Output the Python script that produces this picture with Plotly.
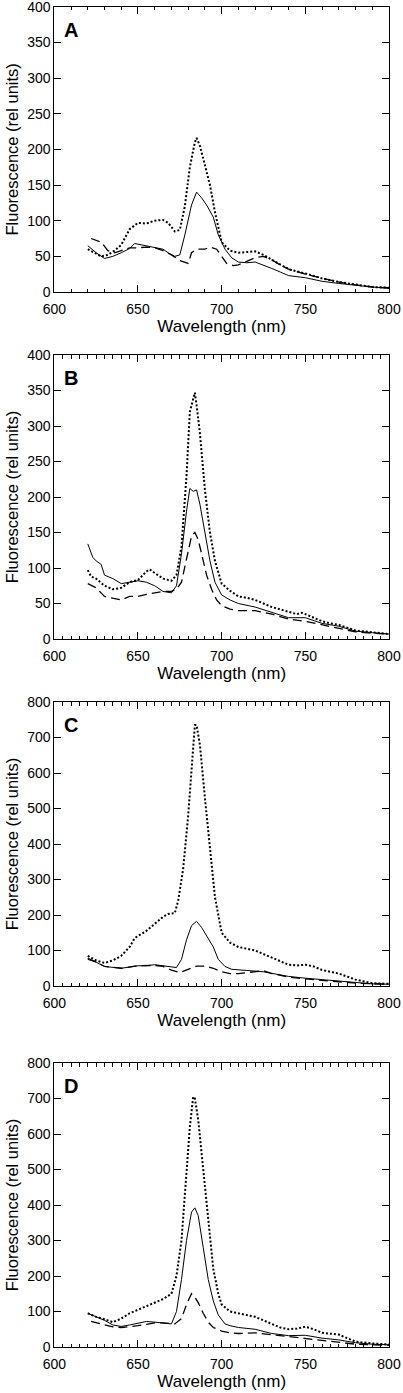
import plotly.graph_objects as go

# ---------------- data ----------------
# Panel A
wl_A_dot = [620, 624, 628, 632, 636, 640, 645, 650, 655, 660, 665, 668, 672, 675, 678, 681, 684, 685, 687, 690, 693, 696, 700, 705, 710, 715, 720, 725, 730, 735, 740, 750, 760, 770, 780, 790, 800]
fl_A_dot = [60, 55, 50, 52, 58, 66, 88, 97, 96, 100, 101, 97, 85, 87, 120, 175, 210, 216, 205, 178, 150, 112, 70, 58, 55, 56, 57, 52, 45, 38, 32, 26, 19, 14, 10, 7, 6]
wl_A_sol = [620, 625, 630, 635, 640, 645, 648, 652, 656, 660, 665, 668, 672, 675, 678, 682, 685, 688, 691, 695, 698, 702, 706, 710, 715, 720, 725, 730, 735, 740, 750, 760, 770, 780, 790, 800]
fl_A_sol = [65, 55, 47, 50, 55, 61, 68, 66, 64, 63, 60, 55, 50, 52, 80, 122, 140, 132, 122, 105, 80, 60, 48, 42, 41, 42, 38, 33, 28, 23, 20, 15, 12, 9, 7, 5]
wl_A_dsh = [622, 628, 632, 636, 640, 645, 650, 655, 660, 665, 670, 675, 680, 682, 685, 690, 693, 697, 700, 703, 707, 710, 715, 720, 725, 730, 735, 740, 750, 760, 770, 780, 790, 800]
fl_A_dsh = [75, 70, 58, 55, 58, 62, 62, 63, 62, 58, 52, 44, 40, 55, 60, 60, 63, 60, 50, 40, 37, 38, 43, 48, 50, 45, 38, 32, 25, 19, 14, 10, 7, 6]

# Panel B
wl_B_dot = [620, 622, 625, 630, 635, 640, 645, 650, 655, 657, 660, 665, 670, 673, 676, 679, 681, 683, 684, 685, 687, 690, 693, 696, 700, 705, 710, 715, 720, 730, 740, 745, 748, 752, 760, 765, 770, 780, 790, 800]
fl_B_dot = [97, 88, 85, 75, 70, 72, 80, 83, 95, 98, 93, 85, 82, 90, 130, 230, 320, 340, 347, 330, 290, 210, 150, 110, 78, 68, 60, 58, 55, 45, 38, 35, 37, 33, 25, 22, 20, 12, 9, 7]
wl_B_sol = [620, 623, 625, 628, 630, 635, 640, 645, 650, 655, 660, 665, 670, 673, 676, 679, 681, 683, 685, 687, 690, 693, 696, 700, 705, 710, 720, 730, 740, 750, 760, 770, 780, 790, 800]
fl_B_sol = [134, 115, 110, 105, 90, 85, 78, 80, 82, 80, 75, 67, 65, 75, 120, 180, 212, 208, 210, 190, 150, 110, 80, 62, 55, 50, 45, 37, 30, 30, 22, 18, 11, 9, 7]
wl_B_dsh = [620, 625, 630, 635, 640, 645, 650, 655, 660, 665, 670, 673, 676, 679, 682, 684, 686, 688, 691, 694, 697, 700, 705, 710, 720, 730, 740, 750, 760, 770, 780, 790, 800]
fl_B_dsh = [78, 72, 60, 57, 55, 60, 60, 63, 65, 67, 67, 70, 80, 115, 145, 150, 140, 120, 90, 70, 55, 47, 42, 40, 40, 35, 28, 25, 20, 15, 10, 8, 7]

# Panel C
wl_C_dot = [620, 625, 630, 635, 640, 645, 648, 655, 660, 665, 668, 672, 674, 677, 680, 682, 684, 685, 687, 690, 693, 696, 700, 705, 710, 715, 720, 725, 730, 735, 740, 745, 750, 755, 760, 770, 780, 790, 800]
fl_C_dot = [85, 72, 65, 72, 85, 110, 135, 155, 175, 195, 203, 205, 240, 330, 480, 620, 735, 735, 680, 530, 380, 250, 150, 122, 110, 105, 100, 90, 80, 70, 60, 58, 60, 55, 45, 35, 18, 8, 6]
wl_C_sol = [620, 625, 630, 640, 650, 655, 660, 665, 670, 673, 676, 679, 682, 685, 688, 691, 695, 698, 702, 706, 710, 720, 725, 730, 740, 750, 760, 770, 780, 790, 800]
fl_C_sol = [75, 67, 55, 50, 57, 57, 60, 57, 53, 52, 75, 130, 170, 182, 165, 140, 110, 75, 55, 47, 45, 42, 40, 35, 27, 22, 18, 13, 9, 6, 5]
wl_C_dsh = [620, 625, 630, 640, 650, 660, 665, 670, 675, 680, 685, 690, 695, 700, 705, 710, 720, 725, 730, 740, 750, 760, 770, 780, 790, 800]
fl_C_dsh = [78, 68, 55, 50, 57, 58, 55, 45, 38, 48, 56, 56, 50, 40, 35, 35, 40, 43, 35, 25, 20, 15, 12, 8, 6, 5]

# Panel D
wl_D_dot = [620, 625, 630, 635, 640, 645, 650, 655, 660, 665, 670, 673, 676, 679, 681, 683, 684, 686, 689, 692, 695, 698, 700, 705, 710, 715, 720, 725, 730, 735, 740, 745, 750, 755, 760, 765, 770, 775, 780, 790, 800]
fl_D_dot = [95, 85, 78, 70, 80, 95, 105, 115, 125, 135, 150, 200, 300, 480, 620, 705, 700, 640, 500, 350, 220, 150, 120, 100, 95, 88, 85, 75, 65, 55, 50, 52, 57, 50, 40, 38, 35, 25, 15, 10, 7]
wl_D_sol = [620, 625, 630, 635, 640, 645, 650, 655, 660, 665, 670, 673, 676, 679, 682, 684, 686, 689, 692, 695, 698, 702, 705, 710, 720, 730, 740, 750, 760, 770, 780, 790, 800]
fl_D_sol = [95, 85, 75, 62, 58, 62, 67, 72, 70, 67, 65, 100, 190, 300, 380, 392, 370, 280, 190, 130, 90, 65, 60, 55, 50, 38, 32, 33, 25, 20, 12, 8, 6]
wl_D_dsh = [622, 628, 635, 640, 650, 660, 665, 672, 676, 679, 682, 684, 686, 689, 692, 695, 700, 705, 710, 720, 730, 740, 750, 760, 770, 780, 790, 800]
fl_D_dsh = [72, 65, 57, 55, 60, 68, 68, 65, 80, 120, 150, 140, 125, 95, 70, 55, 45, 40, 38, 40, 35, 28, 25, 20, 15, 8, 6, 5]

panel_letters = ["A", "B", "C", "D"]
y_max = [400, 400, 800, 800]
y_step = [50, 50, 100, 100]
x_minor = [10, 5, 5, 5]
x_tick_vals = [600, 650, 700, 750, 800]

series = [
    [(wl_A_dot, fl_A_dot), (wl_A_sol, fl_A_sol), (wl_A_dsh, fl_A_dsh)],
    [(wl_B_dot, fl_B_dot), (wl_B_sol, fl_B_sol), (wl_B_dsh, fl_B_dsh)],
    [(wl_C_dot, fl_C_dot), (wl_C_sol, fl_C_sol), (wl_C_dsh, fl_C_dsh)],
    [(wl_D_dot, fl_D_dot), (wl_D_sol, fl_D_sol), (wl_D_dsh, fl_D_dsh)],
]

# ---------------- layout ----------------
W, H = 403, 1393
x_left, x_right = 54.3, 389.0
panel_px = [(6.7, 292.0), (355.0, 639.0), (702.0, 986.0), (1063.0, 1347.0)]
styles = [
    dict(color="black", width=2, dash="2px,2px"),
    dict(color="black", width=1),
    dict(color="black", width=1.3, dash="9px,5px"),
]

FONT = "Liberation Sans, Arial, Helvetica, sans-serif"
fig = go.Figure()

for i in range(4):
    xa = "x" if i == 0 else f"x{i+1}"
    ya = "y" if i == 0 else f"y{i+1}"
    for (wl, fl), st in zip(series[i], styles):
        fig.add_trace(go.Scatter(x=wl, y=fl, mode="lines", line=st,
                                 xaxis=xa, yaxis=ya, showlegend=False,
                                 hoverinfo="skip"))
    top, bot = panel_px[i]
    xkey = "xaxis" if i == 0 else f"xaxis{i+1}"
    ykey = "yaxis" if i == 0 else f"yaxis{i+1}"
    fig.update_layout(**{
        xkey: dict(
            domain=[x_left / W, x_right / W], anchor=ya, automargin=False,
            range=[600, 800], tickvals=x_tick_vals,
            ticks="inside", ticklen=7, tickwidth=1, tickcolor="black",
            ticklabelstandoff=4, ticklabeloverflow="allow",
            minor=dict(dtick=x_minor[i], tick0=600, ticks="inside", ticklen=3.5,
                       tickwidth=1, tickcolor="black", showgrid=False),
            showline=True, linecolor="black", linewidth=1, mirror="ticks",
            showgrid=False, zeroline=False,
            tickfont=dict(family=FONT, size=14, color="black"),
            title=dict(text="Wavelength (nm)", standoff=4,
                       font=dict(family=FONT, size=17, color="black")),
        ),
        ykey: dict(
            domain=[(H - bot) / H, (H - top) / H], anchor=xa, automargin=False,
            range=[0, y_max[i]], ticklabeloverflow="allow",
            tickvals=list(range(0, y_max[i] + 1, y_step[i])),
            ticks="inside", ticklen=7, tickwidth=1, tickcolor="black",
            showline=True, linecolor="black", linewidth=1, mirror="ticks",
            showgrid=False, zeroline=False,
            tickfont=dict(family=FONT, size=14, color="black"),
            title=dict(text="Fluorescence (rel units)", standoff=4,
                       font=dict(family=FONT, size=16.5, color="black")),
        ),
    })
    fig.add_annotation(text=f"<b>{panel_letters[i]}</b>",
                       xref=f"{xa} domain", yref=f"{ya} domain",
                       x=8 / (x_right - x_left), y=1 - 10 / (bot - top),
                       xanchor="left", yanchor="top", showarrow=False,
                       font=dict(family=FONT, size=20, color="black"))

fig.update_layout(template="none", width=W, height=H,
                  margin=dict(l=0, r=0, t=0, b=0),
                  paper_bgcolor="white", plot_bgcolor="white")
# remove the browser's default 8px page margin so the figure fills the window
fig.write_html("out.html", config=dict(displayModeBar=False),
               post_script="document.body.style.margin='0';document.body.style.overflow='hidden';")
